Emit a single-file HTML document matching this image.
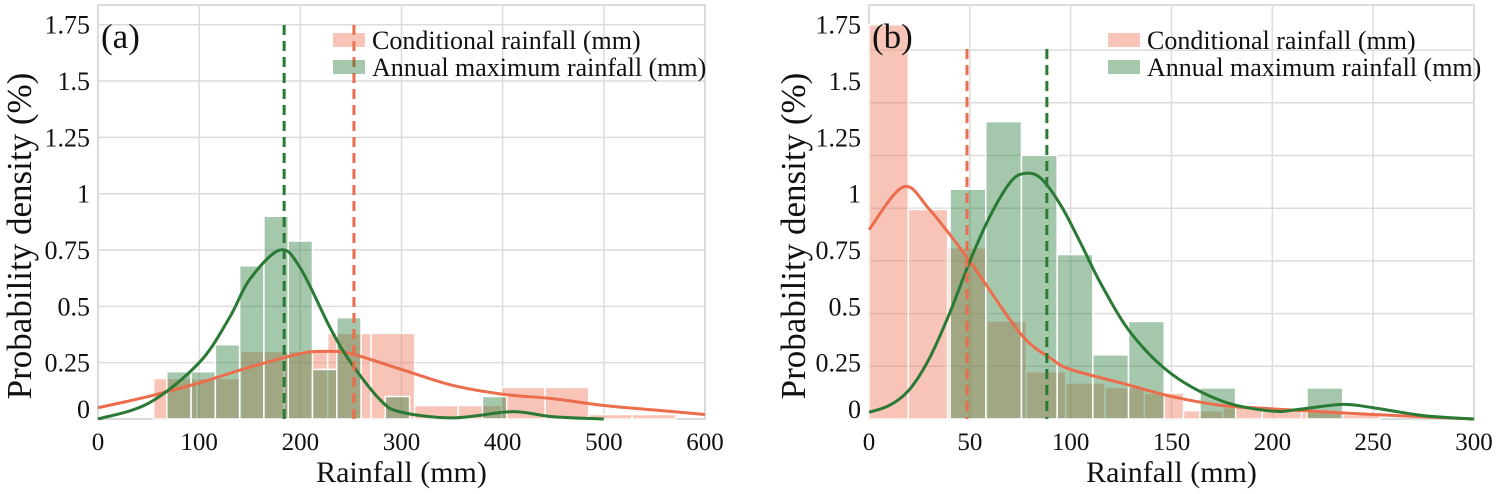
<!DOCTYPE html>
<html><head><meta charset="utf-8"><style>
html,body{margin:0;padding:0;background:#fff;}
svg{display:block;font-family:"Liberation Serif",serif;}
</style></head><body>
<svg id="chart" width="1499" height="494"></svg>
<script>
// Panel (a) data
const aTicksX = [0,100,200,300,400,500,600];
const aTicksY = [0,0.25,0.5,0.75,1,1.25,1.5,1.75];
const aTickYLabels = ["0","0.25","0.5","0.75","1","1.25","1.5","1.75"];
const aCondStart = 55, aCondWidth = 43;
const aCondHeights = [0.18,0.18,0.30,0.30,0.38,0.38,0.06,0.06,0.14,0.14,0.02,0.02];
const aAnnStart = 68, aAnnWidth = 24;
const aAnnHeights = [0.21,0.21,0.33,0.68,0.90,0.79,0.22,0.45,0,0.10,0,0,0,0.10];
const aCondKdeX = [0,50,100,150,200,225,250,300,350,400,450,500,550,600];
const aCondKdeY = [0.05,0.10,0.16,0.23,0.29,0.30,0.29,0.22,0.15,0.11,0.09,0.06,0.04,0.02];
const aAnnKdeX = [0,50,100,130,150,180,200,230,250,280,300,350,400,420,450,500];
const aAnnKdeY = [0,0.07,0.25,0.45,0.62,0.75,0.67,0.40,0.25,0.08,0.03,0.005,0.03,0.03,0.01,0];
const aCondMean = 253, aAnnMean = 184;
// Panel (b) data
const bTicksX = [0,50,100,150,200,250,300];
const bTicksY = [0,0.25,0.5,0.75,1,1.25,1.5,1.75];
const bTickYLabels = ["0","0.25","0.5","0.75","1","1.25","1.5","1.75"];
const bCondStart = 0, bCondWidth = 19.5;
const bCondHeights = [1.75,0.93,0.76,0.435,0.21,0.16,0.14,0.115,0.037,0.05,0.04,0.03,0.02];
const bAnnStart = 40.2, bAnnWidth = 17.7;
const bAnnHeights = [1.02,1.32,1.17,0.73,0.285,0.433,0,0.138,0,0,0.138];
const bCondKdeX = [0,17,30,50,75,90,100,125,150,175,200,250,300];
const bCondKdeY = [0.84,1.03,0.93,0.70,0.38,0.27,0.22,0.16,0.10,0.06,0.045,0.02,0];
const bAnnKdeX = [0,10,20,30,40,50,60,70,77,85,95,105,115,130,150,175,200,215,235,250,275,300];
const bAnnKdeY = [0.03,0.06,0.13,0.27,0.47,0.70,0.90,1.05,1.09,1.07,0.95,0.78,0.60,0.38,0.20,0.08,0.035,0.045,0.065,0.05,0.015,0];
const bCondMean = 48.6, bAnnMean = 88.2;

const NS="http://www.w3.org/2000/svg";
const svg=document.getElementById('chart');
function mk(tag,attrs,parent){const e=document.createElementNS(NS,tag);for(const k in attrs)e.setAttribute(k,attrs[k]);(parent||svg).appendChild(e);return e;}
function smooth(pts){let d=`M${pts[0][0]},${pts[0][1]}`;for(let i=0;i<pts.length-1;i++){const p0=pts[i-1]||pts[i],p1=pts[i],p2=pts[i+1],p3=pts[i+2]||p2;
d+=` C${p1[0]+(p2[0]-p0[0])/6},${p1[1]+(p2[1]-p0[1])/6} ${p2[0]-(p3[0]-p1[0])/6},${p2[1]-(p3[1]-p1[1])/6} ${p2[0]},${p2[1]}`;}return d;}

function panel(o){
  const g=mk('g',{});
  
  
  const xs=v=>o.x0+(v-o.xmin)/(o.xmax-o.xmin)*(o.x1-o.x0);
  const ys=v=>o.y0-v*o.yUnit;
  const gy=v=>o.y0-v*o.gridUnit;
  const fr=mk('rect',{x:o.x0,y:o.top,width:o.x1-o.x0,height:o.y0-o.top,fill:'none',stroke:'#dcdcdc','stroke-width':2},g);
  
  o.ticksX.forEach(t=>{const l=mk('line',{x1:xs(t),x2:xs(t),y1:o.top,y2:o.y0,stroke:'#dcdcdc','stroke-width':1.5},g);
    
    const tx=mk('text',{x:xs(t),y:450,'font-size':25,'text-anchor':'middle',fill:'#111'},g);tx.textContent=t;
    });
  o.ticksY.forEach((t,i)=>{const l=mk('line',{x1:o.x0,x2:o.x1,y1:gy(t),y2:gy(t),stroke:'#dcdcdc','stroke-width':1.5},g);
    
    const off=(t===0)?-10:0;
    const tx=mk('text',{x:o.x0-8,y:ys(t)+9+off,'font-size':26,'text-anchor':'end',fill:'#111'},g);tx.textContent=o.tickLabels[i];
    });
  function bars(start,w,hs,fill,nm){hs.forEach((h,i)=>{if(h<=0)return;const a=xs(start+i*w),b=xs(start+(i+1)*w);
    const r=mk('rect',{x:a,y:ys(h),width:b-a,height:ys(0)-ys(h),fill:fill,stroke:'#fff','stroke-width':1.5},g);
    });}
  bars(o.condStart,o.condWidth,o.condH,'rgba(240,125,95,0.45)','conditional-bar');
  bars(o.annStart,o.annWidth,o.annH,'rgba(40,125,60,0.42)','annual-max-bar');
  const p1=mk('path',{d:smooth(o.cKx.map((x,i)=>[xs(x),ys(o.cKy[i])])),fill:'none',stroke:'#ec6d4c','stroke-width':3},g);
  
  const p2=mk('path',{d:smooth(o.aKx.map((x,i)=>[xs(x),ys(o.aKy[i])])),fill:'none',stroke:'#2a7a35','stroke-width':3},g);
  
  const m1=mk('line',{x1:xs(o.cMean),x2:xs(o.cMean),y1:o.meanTop,y2:o.y0,stroke:'#ec6d4c','stroke-width':3,'stroke-dasharray':'10,6'},g);
  
  const m2=mk('line',{x1:xs(o.aMean),x2:xs(o.aMean),y1:o.meanTop,y2:o.y0,stroke:'#2a7a35','stroke-width':3,'stroke-dasharray':'10,6'},g);
  
  const lg=mk('g',{},g);
  [['Conditional rainfall (mm)','rgba(240,125,95,0.45)'],['Annual maximum rainfall (mm)','rgba(40,125,60,0.42)']].forEach((e,i)=>{
    const ee=mk('g',{},lg);
    mk('rect',{x:o.legX,y:o.legY+i*27-7,width:32,height:14,fill:e[1]},ee);
    const t=mk('text',{x:o.legX+39,y:o.legY+i*27+9,'font-size':26,fill:'#111'},ee);t.textContent=e[0];});
  const pl=mk('text',{x:o.x0+3,y:48,'font-size':35,fill:'#111'},g);pl.textContent=o.label;
  
  const xt=mk('text',{x:(o.x0+o.x1)/2,y:482,'font-size':30,'text-anchor':'middle',fill:'#111'},g);xt.textContent='Rainfall (mm)';
  
  const yt=mk('text',{x:0,y:0,'font-size':35,'text-anchor':'middle',fill:'#111',transform:`translate(${o.ytX},236) rotate(-90)`},g);yt.textContent='Probability density (%)';
  
}
panel({name:'panel-a',label:'(a)',x0:98,x1:705,xmin:0,xmax:600,top:5,y0:419,yUnit:225.3,gridUnit:225.3,
  ticksX:aTicksX,ticksY:aTicksY,tickLabels:aTickYLabels,condStart:aCondStart,condWidth:aCondWidth,condH:aCondHeights,
  annStart:aAnnStart,annWidth:aAnnWidth,annH:aAnnHeights,cKx:aCondKdeX,cKy:aCondKdeY,aKx:aAnnKdeX,aKy:aAnnKdeY,
  cMean:aCondMean,aMean:aAnnMean,meanTop:25,legX:333,legY:40,ytX:31});
panel({name:'panel-b',label:'(b)',x0:869,x1:1474,xmin:0,xmax:300,top:5,y0:419,yUnit:225.3,gridUnit:210.8,
  ticksX:bTicksX,ticksY:bTicksY,tickLabels:bTickYLabels,condStart:bCondStart,condWidth:bCondWidth,condH:bCondHeights,
  annStart:bAnnStart,annWidth:bAnnWidth,annH:bAnnHeights,cKx:bCondKdeX,cKy:bCondKdeY,aKx:bAnnKdeX,aKy:bAnnKdeY,
  cMean:bCondMean,aMean:bAnnMean,meanTop:49,legX:1108,legY:40,ytX:805});
</script>
</body></html>
